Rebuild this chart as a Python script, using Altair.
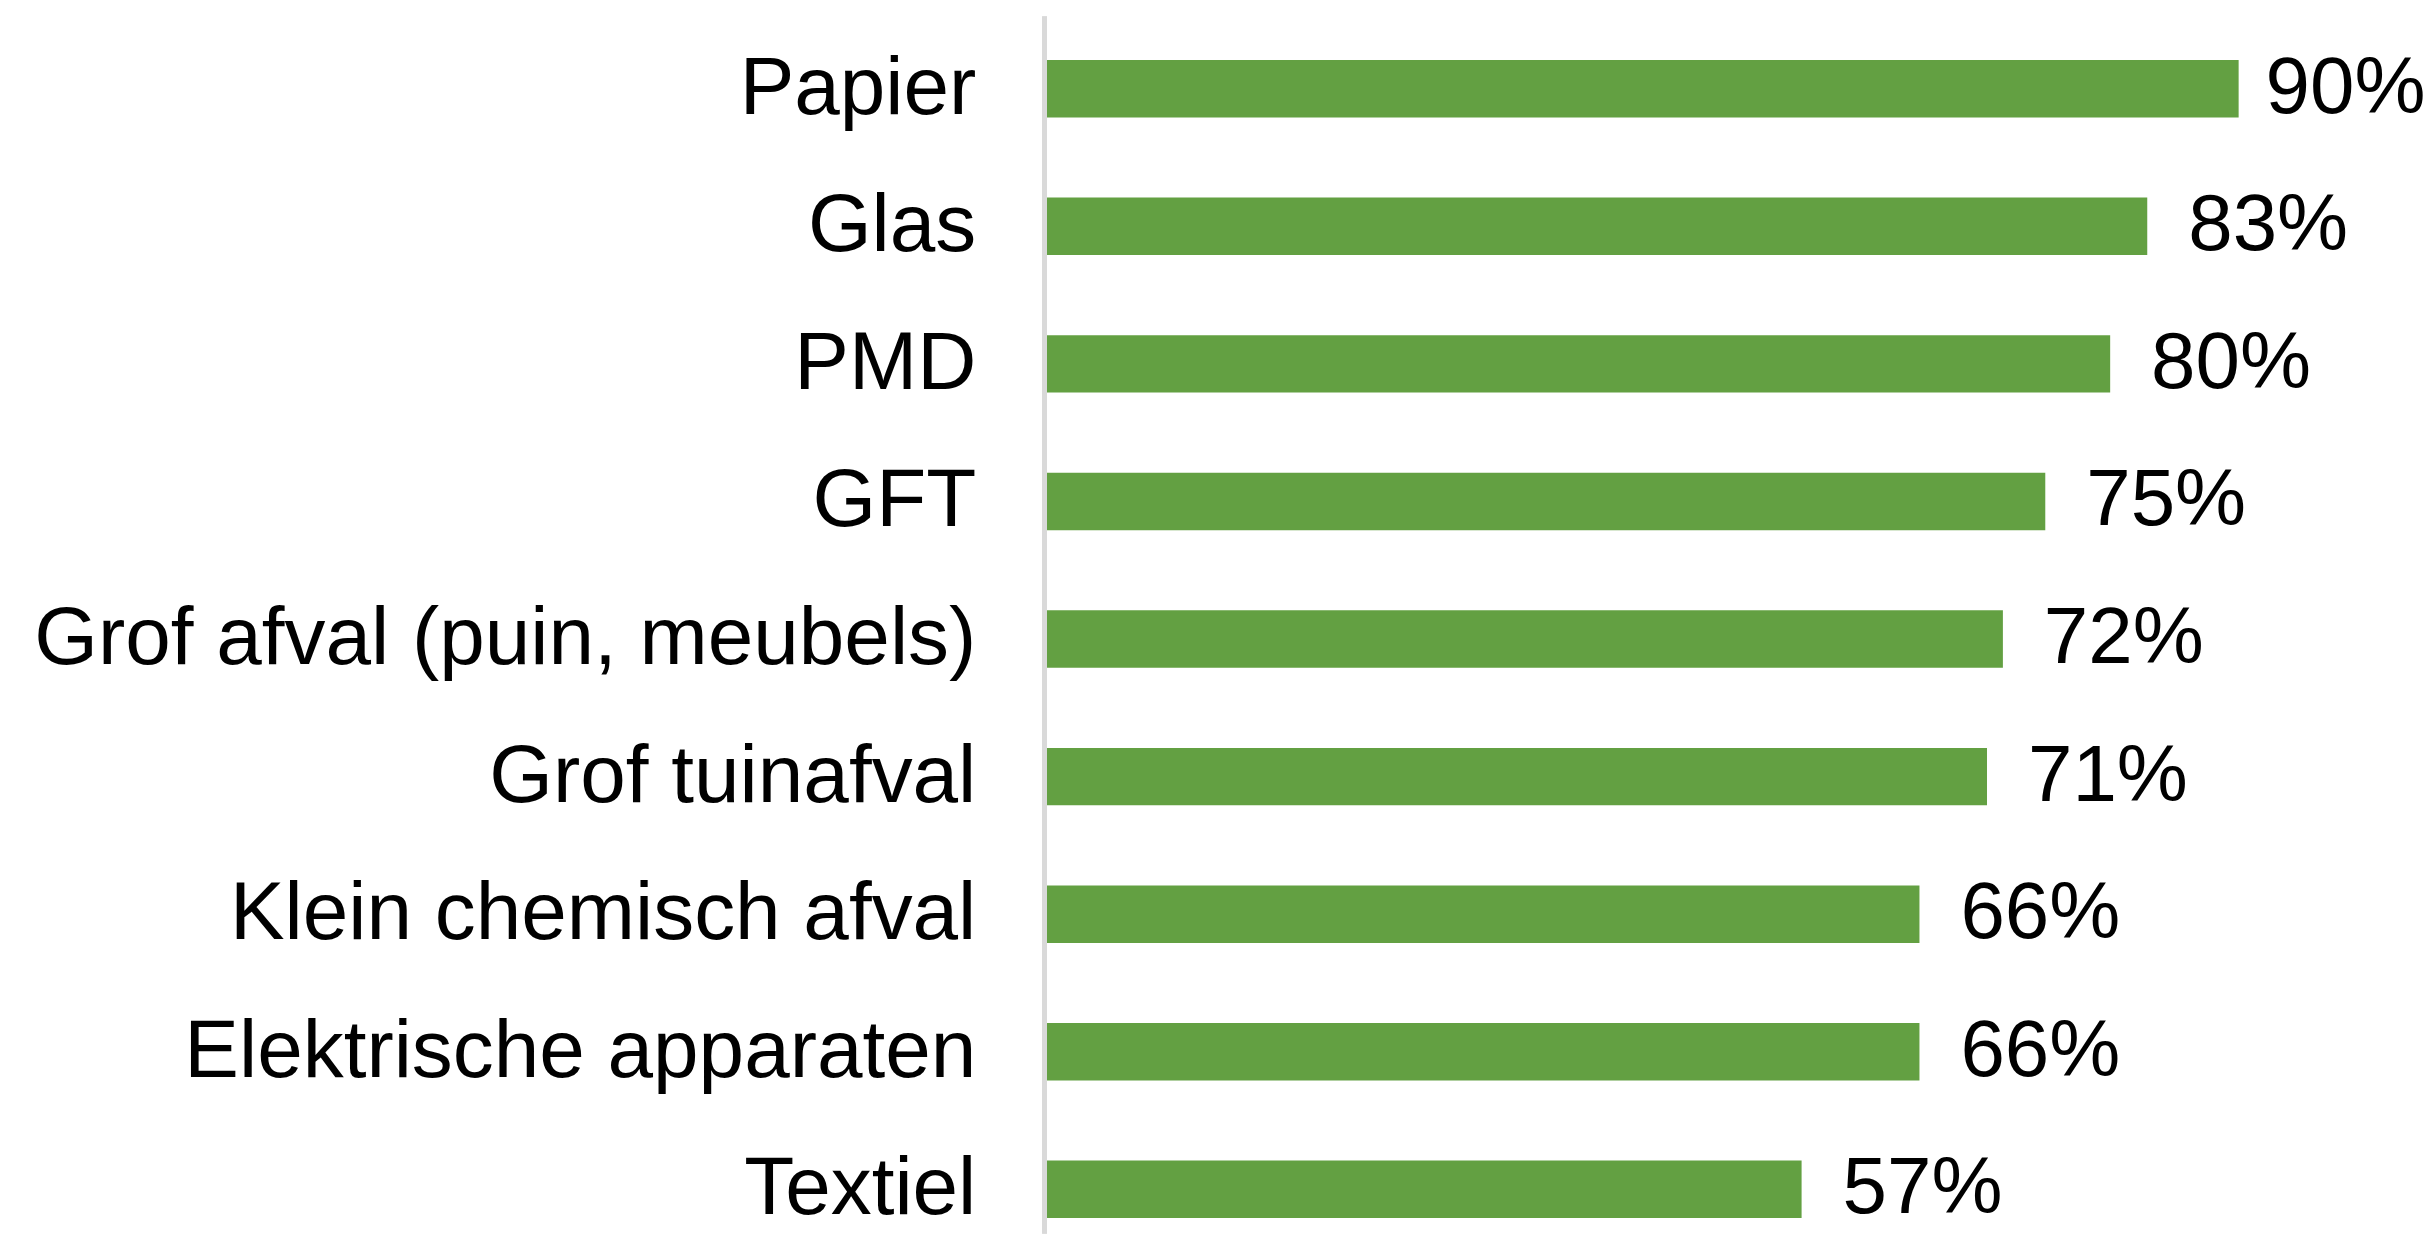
import altair as alt
import pandas as pd

categories = ["Papier", "Glas", "PMD", "GFT", "Grof afval (puin, meubels)",
              "Grof tuinafval", "Klein chemisch afval", "Elektrische apparaten", "Textiel"]
values = [90.0, 83.1, 80.3, 75.4, 72.2, 71.0, 65.9, 65.9, 57.0]
labels = ["90%", "83%", "80%", "75%", "72%", "71%", "66%", "66%", "57%"]

df = pd.DataFrame({"cat": categories, "val": values, "lab": labels})

FONT = "Liberation Sans"
W, H = 1326, 1218

y_enc = alt.Y("cat:N", sort=categories,
              scale=alt.Scale(paddingInner=0.5826, paddingOuter=0.2124, align=0.74, round=False),
              axis=alt.Axis(title=None, domain=False, ticks=False, tickSize=0, grid=False,
                            labelFont=FONT, labelFontSize=82, labelColor="#000000",
                            labelPadding=71, labelLimit=2000))
x_enc = alt.X("val:Q", scale=alt.Scale(domain=[0, 100], nice=False, zero=True), axis=None)

bars = alt.Chart(df).mark_bar(color="#63A042").encode(x=x_enc, y=y_enc)

# the top label sits closer to its bar (pushed in at the chart edge)
text_top = alt.Chart(df).transform_filter(alt.datum.cat == "Papier").mark_text(
    align="left", baseline="middle", dx=27, font=FONT, fontSize=80, color="#000000"
).encode(x=x_enc, y=y_enc, text="lab:N")

text_rest = alt.Chart(df).transform_filter(alt.datum.cat != "Papier").mark_text(
    align="left", baseline="middle", dx=41, font=FONT, fontSize=80, color="#000000"
).encode(x=x_enc, y=y_enc, text="lab:N")

rule = alt.Chart(df).mark_rule(color="#D9D9D9", strokeWidth=4.5).encode(
    x=alt.value(-2.25), y=alt.value(0), y2=alt.value(H))

chart = alt.layer(bars, text_top, text_rest, rule).properties(
    width=W, height=H,
    autosize=alt.AutoSizeParams(type="none"),
    padding={"left": 1040, "top": 8, "right": 56, "bottom": 0},
).configure(background="#FFFFFF").configure_view(strokeWidth=0, strokeOpacity=0)

chart.save("out.html", embed_options={"renderer": "svg", "actions": False})
